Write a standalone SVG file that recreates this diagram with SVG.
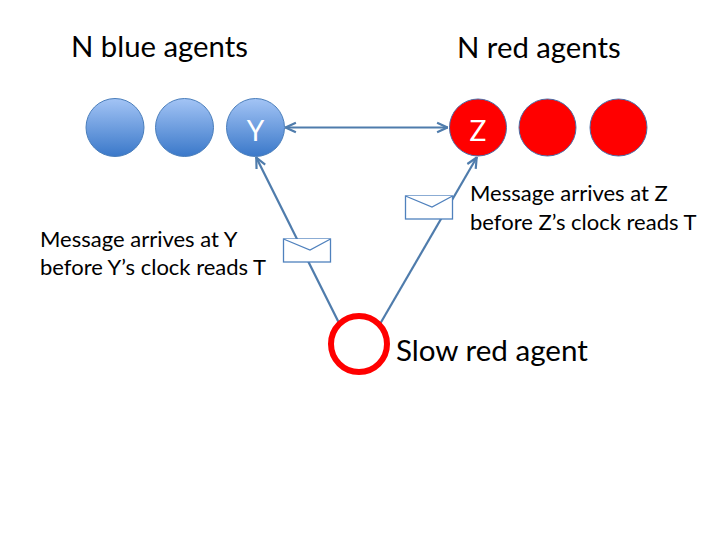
<svg xmlns="http://www.w3.org/2000/svg" width="720" height="540" viewBox="0 0 720 540">
<style>
text{font-family:"Lato","Carlito","Liberation Sans",sans-serif;fill:#000}
.h{font-size:29.300px}
.m{font-size:22px}
.l{font-size:28px;fill:#fff;text-anchor:middle}
.conn{fill:none;stroke:#4f7cac;stroke-width:2.200}
.env{fill:#fff;stroke:#4f81bd;stroke-width:1.300}
.b{fill:url(#blue);stroke:#4a7ebb;stroke-width:1}
.r{fill:#f00;stroke:#4a6ea8;stroke-width:1}
</style>
<defs>
<linearGradient id="blue" x1="0" y1="0" x2="0" y2="1"><stop offset="0" stop-color="#a3c4f5"/><stop offset="1" stop-color="#3a78c9"/></linearGradient>
<marker id="a" viewBox="0 0 10 10" refX="10" refY="5" markerWidth="5.500" markerHeight="5.500" orient="auto-start-reverse"><path d="M1 1L9.500 5L1 9" fill="none" stroke="#4f7cac" stroke-width="1.800"/></marker>
</defs>
<rect width="720" height="540" fill="#fff"/>
<g id="connectors">
<line class="conn" x1="285" y1="127.500" x2="448" y2="127.500" marker-start="url(#a)" marker-end="url(#a)"/>
<line class="conn" x1="339" y1="323" x2="256" y2="157" marker-end="url(#a)"/>
<line class="conn" x1="380" y1="324" x2="477" y2="157" marker-end="url(#a)"/>
</g>
<g id="blue1"><circle class="b" cx="115" cy="127.500" r="29"/></g>
<g id="blue2"><circle class="b" cx="184.500" cy="127.500" r="29"/></g>
<g id="blueY"><circle class="b" cx="255.500" cy="127.500" r="29"/><text class="l" x="255.500" y="141">Y</text></g>
<g id="redZ"><circle class="r" cx="478" cy="127.500" r="28.500"/><text class="l" x="478" y="141">Z</text></g>
<g id="red2"><circle class="r" cx="547.500" cy="127.500" r="28.500"/></g>
<g id="red3"><circle class="r" cx="618.500" cy="127.500" r="28.500"/></g>
<g id="slow"><circle cx="359" cy="344" r="28" fill="#fff" stroke="#f00" stroke-width="6"/><text x="396" y="361" style="font-size:29.600px">Slow red agent</text></g>
<g id="envelope1"><rect class="env" x="283.500" y="239" width="47" height="23"/><path class="env" d="M283.500 239L310 250L330.500 239" fill="none"/></g>
<g id="envelope2"><rect class="env" x="405.500" y="196" width="47" height="23"/><path class="env" d="M405.500 196L432 207L452.500 196" fill="none"/></g>
<g id="labels">
<text class="h" x="71" y="57">N blue agents</text>
<text class="h" x="457" y="58">N red agents</text>
<text class="m" x="40" y="247">Message arrives at Y</text>
<text class="m" x="40" y="275">before Y’s clock reads T</text>
<text class="m" x="470" y="201">Message arrives at Z</text>
<text class="m" x="470" y="230">before Z’s clock reads T</text>
</g>
</svg>
